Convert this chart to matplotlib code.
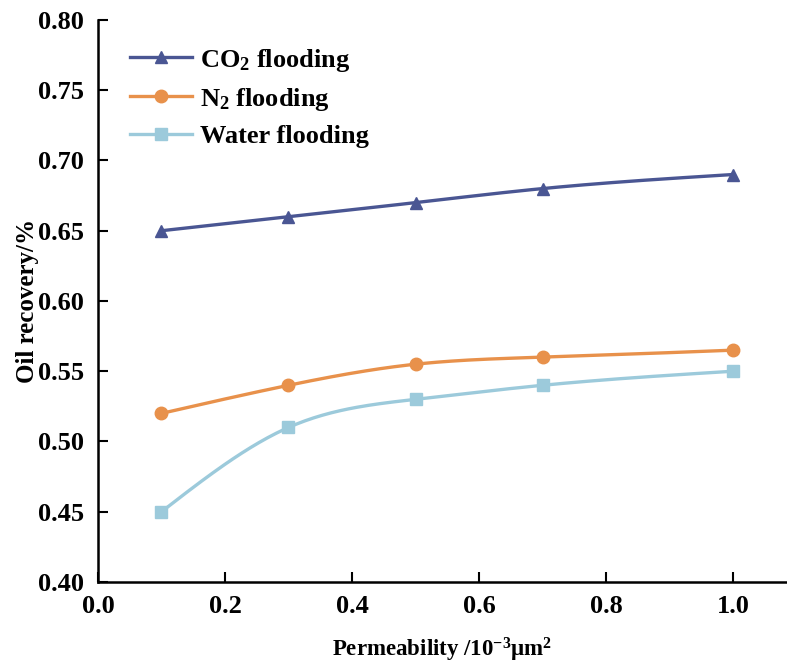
import numpy as np
import matplotlib
matplotlib.use("Agg")
import matplotlib.pyplot as plt

permeability = [0.1, 0.3, 0.5, 0.7, 1.0]
co2 = [0.65, 0.66, 0.67, 0.68, 0.69]
n2 = [0.52, 0.54, 0.555, 0.56, 0.565]
water = [0.45, 0.51, 0.53, 0.54, 0.55]


def spline(x, y, n=200):
    # natural cubic spline through the measured points
    x = np.asarray(x, float)
    y = np.asarray(y, float)
    k = len(x)
    h = np.diff(x)
    A = np.zeros((k, k))
    b = np.zeros(k)
    A[0, 0] = A[-1, -1] = 1
    for i in range(1, k - 1):
        A[i, i - 1] = h[i - 1]
        A[i, i] = 2 * (h[i - 1] + h[i])
        A[i, i + 1] = h[i]
        b[i] = 3 * ((y[i + 1] - y[i]) / h[i] - (y[i] - y[i - 1]) / h[i - 1])
    c = np.linalg.solve(A, b)
    xs = np.linspace(x[0], x[-1], n)
    ys = np.empty_like(xs)
    for j, xv in enumerate(xs):
        i = min(np.searchsorted(x, xv, side="right") - 1, k - 2)
        d = xv - x[i]
        bi = (y[i + 1] - y[i]) / h[i] - h[i] * (2 * c[i] + c[i + 1]) / 3
        di = (c[i + 1] - c[i]) / (3 * h[i])
        ys[j] = y[i] + bi * d + c[i] * d ** 2 + di * d ** 3
    return xs, ys


plt.rcParams["font.family"] = ["Liberation Serif", "DejaVu Serif"]
plt.rcParams["font.weight"] = "bold"
plt.rcParams["mathtext.fontset"] = "custom"
plt.rcParams["mathtext.rm"] = "Liberation Serif:bold"
plt.rcParams["mathtext.it"] = "Liberation Serif:bold"
plt.rcParams["mathtext.bf"] = "Liberation Serif:bold"

fig = plt.figure(figsize=(7.87, 6.65), dpi=100)
ax = fig.add_axes([0.1245, 0.1248, 0.8755, 0.8452])

series = [
    (co2, "#4a5693", "^", r"CO$_2$ flooding"),
    (n2, "#e8914b", "o", r"N$_2$ flooding"),
    (water, "#9ccadb", "s", "Water flooding"),
]
for vals, color, marker, label in series:
    xs, ys = spline(permeability, vals)
    ax.plot(xs, ys, color=color, lw=2.4, zorder=2)
    ax.plot(permeability, vals, linestyle="none", marker=marker, color=color,
            markersize=9, zorder=3)
    ax.plot([], [], color=color, lw=2.4, marker=marker, markersize=9, label=label)

ax.set_xlim(0, 1.085)
ax.set_ylim(0.40, 0.80)
ax.set_xticks([0.0, 0.2, 0.4, 0.6, 0.8, 1.0])
ax.set_yticks(np.arange(0.40, 0.801, 0.05))
ax.xaxis.set_major_formatter(matplotlib.ticker.FormatStrFormatter("%.1f"))
ax.yaxis.set_major_formatter(matplotlib.ticker.FormatStrFormatter("%.2f"))
ax.tick_params(direction="in", length=7, width=1.5, labelsize=19, pad=10)
ax.tick_params(axis="x", pad=9)
for s in ["top", "right"]:
    ax.spines[s].set_visible(False)
for s in ["left", "bottom"]:
    ax.spines[s].set_linewidth(1.8)

ax.set_xlabel(r"Permeability /10$^{-3}$μm$^2$", fontsize=16.5, fontweight="bold", labelpad=13.5)
ax.set_ylabel("Oil recovery/%", fontsize=18, fontweight="bold", labelpad=-1)

ax.legend(loc="upper left", frameon=False, fontsize=19, handlelength=2.35,
          handletextpad=0.3, borderaxespad=0.4, labelspacing=0.45,
          bbox_to_anchor=(0.0155, 0.99))

fig.savefig("out.png", dpi=100)
